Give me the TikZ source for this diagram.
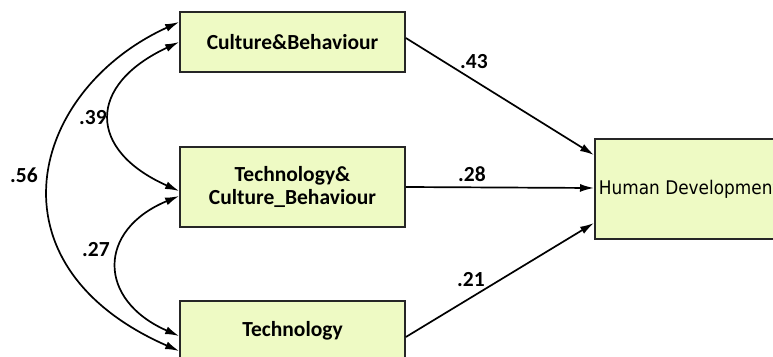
\documentclass[tikz,border=0pt]{standalone}
\usepackage{fontspec}
\newfontfamily\boxfont{Carlito}
\newfontfamily\hdfont{DejaVu Sans}[FakeStretch=0.9]
\usetikzlibrary{arrows.meta}
\definecolor{varfill}{RGB}{238,250,196}
\begin{document}
\begin{tikzpicture}[x=1pt, y=-1pt, >={Latex[length=14pt, width=8pt]},
          var/.style = {shape=rectangle, draw=black!85, fill=varfill, line width=1.7pt, inner sep=4pt, align=center,
                        font=\boxfont\bfseries\fontsize{21.5}{23}\selectfont},
          lbl/.style = {inner sep=0pt, font=\boxfont\bfseries\fontsize{21.5}{23}\selectfont},
          corr/.style = {<->, line width=1.7pt},
          effect/.style = {->, line width=1.7pt}]
          \clip (0,0) rectangle (773,356);
          \node[var, minimum width=225pt, minimum height=60pt] (cb) at (292.5,42) {Culture\&Behaviour};
          \node[var, minimum width=225pt, minimum height=80pt] (tcb) at (292.5,187) {Technology\&\\Culture\_Behaviour};
          \node[var, minimum width=225pt, minimum height=60pt] (tech) at (292.5,331) {Technology};
          \node[var, anchor=west, minimum height=100pt, font=\hdfont\fontsize{18.8}{22}\selectfont] (hd) at (594,189) {Human Development};
          % covariances
          \draw[corr] ([yshift=20pt]cb.west) .. controls (30,90) and (-17,265) .. ([yshift=-20pt]tech.west);
          \draw[corr] (cb.west) .. controls (87,85) and (87,150) .. ([yshift=-4pt]tcb.west);
          \draw[corr] ([yshift=-9pt]tcb.west) .. controls (97,230) and (97,300) .. ([yshift=-5pt]tech.west);
          % paths
          \draw[effect] ([yshift=4pt]cb.east) -- ([yshift=34pt]hd.west);
          \draw[effect] (tcb.east) -- ([yshift=1pt]hd.west);
          \draw[effect] ([yshift=-6pt]tech.east) -- ([yshift=-34pt]hd.west);
          \node[lbl] (c56) at (24,175) {.56};
          \node[lbl] (c39) at (93,118) {.39};
          \node[lbl] (c27) at (96,250) {.27};
          \node[lbl] (p43) at (474,62) {.43};
          \node[lbl] (p28) at (472,174) {.28};
          \node[lbl] (p21) at (471,280) {.21};
\end{tikzpicture}
\end{document}
